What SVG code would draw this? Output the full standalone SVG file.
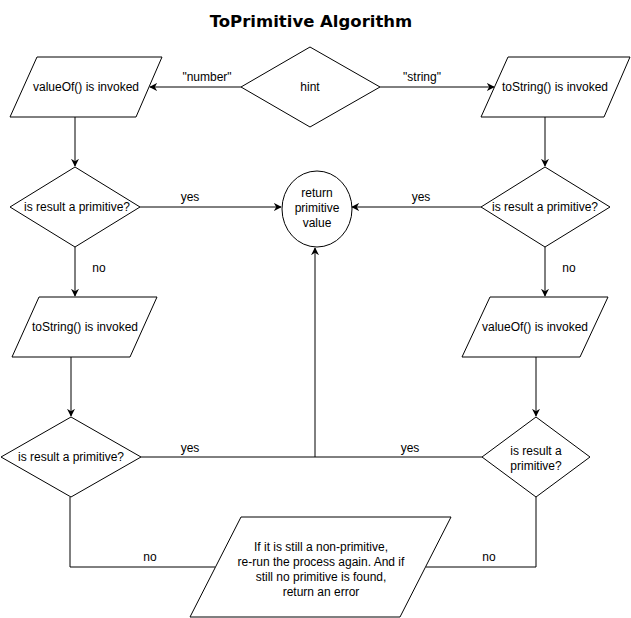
<svg xmlns="http://www.w3.org/2000/svg" width="631" height="618" viewBox="0 0 631 618">
<style>
.s{fill:#fff;stroke:#000;stroke-width:1}
.t{font-family:"Liberation Sans",Arial,sans-serif;font-size:12px;fill:#000;text-anchor:middle}
.e{fill:none;stroke:#000;stroke-width:1}
.title{font-family:"DejaVu Sans",Verdana,sans-serif;font-weight:bold;font-size:16.5px;text-anchor:middle}
</style>
<defs>
<marker id="a" viewBox="0 0 10 10" refX="9" refY="5" markerWidth="8" markerHeight="8" markerUnits="userSpaceOnUse" orient="auto">
<path d="M0,0 L10,5 L0,10 L3,5 Z" fill="#000"/>
</marker>
</defs>
<rect width="631" height="618" fill="#fff"/>
<text class="title" x="311" y="27">ToPrimitive Algorithm</text>

<g id="connectors">
<path class="e" d="M241,87 H150" marker-end="url(#a)"/>
<path class="e" d="M380,87 H494" marker-end="url(#a)"/>
<path class="e" d="M75,117 V166" marker-end="url(#a)"/>
<path class="e" d="M545,117 V166" marker-end="url(#a)"/>
<path class="e" d="M140,207 H281" marker-end="url(#a)"/>
<path class="e" d="M481,207 H352" marker-end="url(#a)"/>
<path class="e" d="M75,247 V296" marker-end="url(#a)"/>
<path class="e" d="M545,247 V296" marker-end="url(#a)"/>
<path class="e" d="M71,357 V416" marker-end="url(#a)"/>
<path class="e" d="M536,357 V416" marker-end="url(#a)"/>
<path class="e" d="M141,457 H482"/>
<path class="e" d="M315,457 V248" marker-end="url(#a)"/>
<path class="e" d="M70,497 V567 H215"/>
<path class="e" d="M536,497 V567 H426"/>
<text class="t" x="207" y="81">"number"</text>
<text class="t" x="422" y="81">"string"</text>
<text class="t" x="190" y="201">yes</text>
<text class="t" x="421" y="201">yes</text>
<text class="t" x="99" y="272">no</text>
<text class="t" x="569" y="272">no</text>
<text class="t" x="190" y="452">yes</text>
<text class="t" x="410" y="452">yes</text>
<text class="t" x="150" y="561">no</text>
<text class="t" x="489" y="561">no</text>
</g>

<g id="hint">
<polygon class="s" points="310,47 380,87 310,127 241,87"/>
<text class="t" x="310" y="91">hint</text>
</g>
<g id="valueOf1">
<polygon class="s" points="37,57 162,57 136,117 10,117"/>
<text class="t" x="86" y="91">valueOf() is invoked</text>
</g>
<g id="toString1">
<polygon class="s" points="508,57 630,57 604,117 481,117"/>
<text class="t" x="555" y="91">toString() is invoked</text>
</g>
<g id="check1left">
<polygon class="s" points="75,167 140,207 75,247 10,207"/>
<text class="t" x="77" y="211">is result a primitive?</text>
</g>
<g id="check1right">
<polygon class="s" points="545,167 610,207 545,247 481,207"/>
<text class="t" x="545" y="211">is result a primitive?</text>
</g>
<g id="returnValue">
<ellipse class="s" cx="317" cy="209" rx="35" ry="38"/>
<text class="t" x="317" y="197">return</text>
<text class="t" x="317" y="212">primitive</text>
<text class="t" x="317" y="227">value</text>
</g>
<g id="toString2">
<polygon class="s" points="39,297 157,297 130,357 12,357"/>
<text class="t" x="85" y="331">toString() is invoked</text>
</g>
<g id="valueOf2">
<polygon class="s" points="490,297 608,297 580,357 462,357"/>
<text class="t" x="535" y="331">valueOf() is invoked</text>
</g>
<g id="check2left">
<polygon class="s" points="71,417 141,457 71,497 1,457"/>
<text class="t" x="71" y="461">is result a primitive?</text>
</g>
<g id="check2right">
<polygon class="s" points="536,417 590,457 536,497 482,457"/>
<text class="t" x="536" y="455">is result a</text>
<text class="t" x="536" y="470">primitive?</text>
</g>
<g id="error">
<polygon class="s" points="241,517 451,517 400,617 190,617"/>
<text class="t" x="321" y="551">If it is still a non-primitive,</text>
<text class="t" x="321" y="566">re-run the process again. And if</text>
<text class="t" x="321" y="581">still no primitive is found,</text>
<text class="t" x="321" y="596">return an error</text>
</g>
</svg>
